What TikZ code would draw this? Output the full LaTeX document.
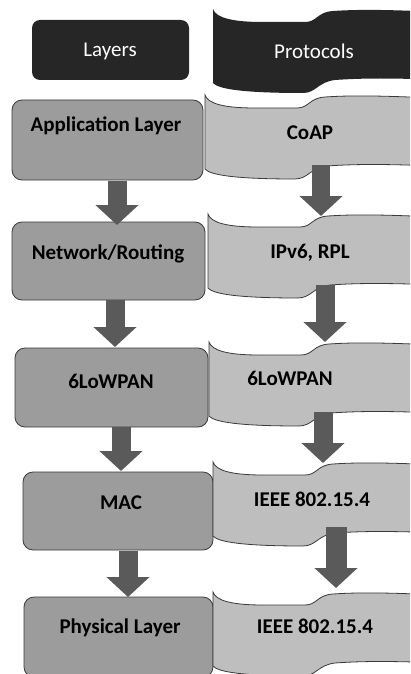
\documentclass[tikz,border=0pt]{standalone}
\usepackage{fontspec}
\setmainfont{Carlito}
\usetikzlibrary{arrows.meta}

\definecolor{headfill}{HTML}{262626}
\definecolor{boxfill}{HTML}{9C9C9C}
\definecolor{wavefill}{HTML}{BEBEBE}
\definecolor{edge}{HTML}{3A3A3A}
\definecolor{arrowfill}{HTML}{5A5A5A}

% ribbon-like "wave" banner: #1 = left x, #2 = top y, #3 = style
\newcommand{\protowave}[3]{%
  \path[#3] (#1,#2)
    .. controls ({#1+3},{#2+9}) and ({#1+20},{#2+13}) .. ({#1+50},{#2+13})
    -- ({#1+92},{#2+13})
    .. controls ({#1+104},{#2+13}) and ({#1+104},{#2+3}) .. ({#1+120},{#2+2})
    .. controls ({#1+150},{#2}) and ({#1+180},{#2+1}) .. ({#1+230},{#2+3})
    -- ({#1+230},{#2+71})
    .. controls ({#1+180},{#2+69}) and ({#1+150},{#2+69}) .. ({#1+122},{#2+71})
    .. controls ({#1+105},{#2+73}) and ({#1+103},{#2+84}) .. ({#1+90},{#2+84})
    .. controls ({#1+30},{#2+84}) and ({#1+5},{#2+80}) .. (#1,{#2+74})
    -- cycle;}

\tikzset{
  layerbox/.style={draw=edge, line width=0.8pt, fill=boxfill,
    rounded corners=10pt, inner sep=0pt},
  headbox/.style={fill=headfill, rounded corners=8pt, inner sep=0pt},
  wavestyle/.style={draw=edge, line width=0.8pt, fill=wavefill},
  headwave/.style={fill=headfill},
  lbl/.style={font=\bfseries\fontsize{21}{24}\selectfont, text=black, inner sep=0pt},
  headlbl/.style={font=\fontsize{21}{24}\selectfont, text=white, inner sep=0pt},
  blockarrow/.style={draw=arrowfill, line width=#1,
    -{Triangle[length=20pt, width=42pt, fill=arrowfill]}},
  blockarrow/.default=19pt
}

\begin{document}
\begin{tikzpicture}[x=1pt, y=-1pt]
\useasboundingbox (0,0) rectangle (410,674);
\clip (0,0) rectangle (410,674);

% header row
\node[headbox, minimum width=157pt, minimum height=60pt] (hlay) at (110.5,50) {};
\protowave{213}{9}{headwave}
\node[headlbl] (hlayT) at (110,51) {Layers};
\node[headlbl] (hproT) at (314,51) {Protocols};

% layer boxes
\node[layerbox, minimum width=191pt, minimum height=80pt] (app) at (107.5,140) {};
\node[layerbox, minimum width=193pt, minimum height=78pt] (net) at (108.5,261) {};
\node[layerbox, minimum width=193pt, minimum height=79pt] (low) at (111.5,387.5) {};
\node[layerbox, minimum width=190pt, minimum height=78pt] (mac) at (118,511) {};
\node[layerbox, minimum width=189pt, minimum height=80pt] (phy) at (118.5,637) {};

% protocol banners
\protowave{205}{95}{wavestyle}
\protowave{208}{214}{wavestyle}
\protowave{209}{342}{wavestyle}
\protowave{213}{462}{wavestyle}
\protowave{213}{592}{wavestyle}

% labels
\node[lbl] (appT) at (106,126) {Application Layer};
\node[lbl] (netT) at (108,254) {Network/Routing};
\node[lbl] (lowT) at (111,381) {6LoWPAN};
\node[lbl] (macT) at (121,503) {MAC};
\node[lbl] (phyT) at (120,628) {Physical Layer};

\node[lbl] (coapT) at (310,133) {CoAP};
\node[lbl] (ipT)   at (310,253) {IPv6, RPL};
\node[lbl] (lowpT) at (290,378) {6LoWPAN};
\node[lbl] (ieeeA) at (312,499) {IEEE 802.15.4};
\node[lbl] (ieeeB) at (315,626) {IEEE 802.15.4};

% arrow anchor points, left column
\coordinate (l1s) at (117,181);  \coordinate (l1e) at (117,225);
\coordinate (l2s) at (115,300);  \coordinate (l2e) at (115,347);
\coordinate (l3s) at (121,427);  \coordinate (l3e) at (121,471);
\coordinate (l4s) at (128,551);  \coordinate (l4e) at (128,597);
% arrow anchor points, right column
\coordinate (r1s) at (321,165);  \coordinate (r1e) at (321,216);
\coordinate (r2s) at (325,285);  \coordinate (r2e) at (325,342);
\coordinate (r3s) at (323,412);  \coordinate (r3e) at (323,463);
\coordinate (r4s) at (336,527);  \coordinate (r4e) at (336,588);

\draw[blockarrow] (l1s) -- (l1e);
\draw[blockarrow] (l2s) -- (l2e);
\draw[blockarrow] (l3s) -- (l3e);
\draw[blockarrow] (l4s) -- (l4e);
\draw[blockarrow=18pt] (r1s) -- (r1e);
\draw[blockarrow] (r2s) -- (r2e);
\draw[blockarrow] (r3s) -- (r3e);
\draw[blockarrow=21pt] (r4s) -- (r4e);
\end{tikzpicture}
\end{document}
